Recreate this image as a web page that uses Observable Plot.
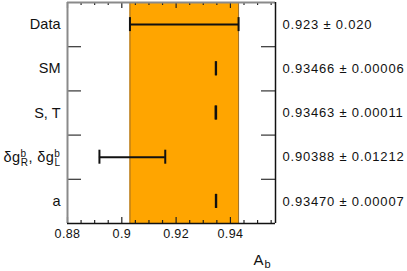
<!DOCTYPE html>
<html>
<head>
<meta charset="utf-8">
<script src="https://cdn.jsdelivr.net/npm/d3@7"></script>
<script src="https://cdn.jsdelivr.net/npm/@observablehq/plot@0.6"></script>
<style>
  html, body { margin: 0; padding: 0; background: #fff; }
  svg { font-family: "Liberation Sans", Arial, Helvetica, sans-serif; }
</style>
</head>
<body>
<div id="chart"></div>
<script>
// ---- data ----
const rowLabels = ["Data", "SM", "S, T", "DG_LABEL", "a"];
const centers = [0.923, 0.93466, 0.93463, 0.90388, 0.93470];
const errors = [0.020, 0.00006, 0.00011, 0.01212, 0.00007];
const valueLabels = [
  "0.923 \u00b1 0.020",
  "0.93466 \u00b1 0.00006",
  "0.93463 \u00b1 0.00011",
  "0.90388 \u00b1 0.01212",
  "0.93470 \u00b1 0.00007"
];
const majorTicks = [0.88, 0.90, 0.92, 0.94];
const tickLabels = ["0.88", "0.9", "0.92", "0.94"];
const xDomain = [0.88, 0.9566];
const axisTitle = "A_b";

// ---- layout ----
const W = 407, H = 271;
const mL = 67, mR = 132, mT = 2, mB = 48;
const innerW = W - mL - mR, innerH = H - mT - mB;
const nRows = rowLabels.length;
const xpx = (xDomain[1] - xDomain[0]) / innerW;  // x units per pixel
const ypx = nRows / innerH;                        // y units per pixel

const rows = rowLabels.map((label, i) => ({
  label,
  y: nRows - i - 0.5,
  c: centers[i],
  lo: centers[i] - errors[i],
  hi: centers[i] + errors[i],
  text: valueLabels[i]
}));
const band = [{x1: centers[0] - errors[0], x2: centers[0] + errors[0]}];
const minorTicks = d3.range(0, 16).map(k => +(xDomain[0] + k * 0.005).toFixed(3))
  .filter(v => v < xDomain[1] && !majorTicks.some(m => Math.abs(m - v) < 1e-9));
const boundaries = d3.range(1, nRows);
const ticksData = majorTicks.map((v, i) => ({v, label: tickLabels[i]}));

const capH = 7 * ypx;
const chart = Plot.plot({
  width: W, height: H,
  marginLeft: mL, marginRight: mR, marginTop: mT, marginBottom: mB,
  x: {domain: xDomain, axis: null},
  y: {domain: [0, nRows], axis: null},
  style: {fontFamily: "'Liberation Sans', Arial, Helvetica, sans-serif", background: "white"},
  marks: [
    // orange band for Data
    Plot.rect(band, {x1: "x1", x2: "x2", y1: 0, y2: nRows, fill: "#FFA500"}),
    Plot.ruleX(band, {x: "x1", y1: 0, y2: nRows, stroke: "#9c6b22", strokeWidth: 1}),
    Plot.ruleX(band, {x: "x2", y1: 0, y2: nRows, stroke: "#9c6b22", strokeWidth: 1}),
    // bottom & top x ticks
    Plot.ruleX(majorTicks, {x: d => d, y1: 0, y2: 6 * ypx, stroke: "#222", strokeWidth: 1.2}),
    Plot.ruleX(minorTicks, {x: d => d, y1: 0, y2: 3 * ypx, stroke: "#222", strokeWidth: 1.2}),
    Plot.ruleX(majorTicks, {x: d => d, y1: nRows - 6 * ypx, y2: nRows, stroke: "#222", strokeWidth: 1.2}),
    Plot.ruleX(minorTicks, {x: d => d, y1: nRows - 3 * ypx, y2: nRows, stroke: "#222", strokeWidth: 1.2}),
    // y ticks at row boundaries (left and right)
    Plot.ruleY(boundaries, {y: d => d, x1: xDomain[0], x2: xDomain[0] + 14 * xpx, stroke: "#333", strokeWidth: 1.2}),
    Plot.ruleY(boundaries, {y: d => d, x1: xDomain[1] - 14 * xpx, x2: xDomain[1], stroke: "#333", strokeWidth: 1.2}),
    // frame
    Plot.ruleX([xDomain[0]], {y1: 0, y2: nRows, stroke: "#8a8a8a", strokeWidth: 2}),
    Plot.ruleY([nRows], {x1: xDomain[0], x2: xDomain[1], stroke: "#8a8a8a", strokeWidth: 2}),
    Plot.ruleX([xDomain[1]], {y1: 0, y2: nRows, stroke: "#111", strokeWidth: 1.5}),
    Plot.ruleY([0], {x1: xDomain[0], x2: xDomain[1], stroke: "#111", strokeWidth: 1.5}),
    // error bars
    Plot.ruleY(rows, {y: "y", x1: "lo", x2: "hi", stroke: "#111", strokeWidth: 2}),
    Plot.ruleX(rows, {x: "lo", y1: d => d.y - capH, y2: d => d.y + capH, stroke: "#111", strokeWidth: 2}),
    Plot.ruleX(rows, {x: "hi", y1: d => d.y - capH, y2: d => d.y + capH, stroke: "#111", strokeWidth: 2}),
    // row labels (left)
    Plot.text(rows, {x: xDomain[0], y: "y", text: "label", textAnchor: "end", dx: -7, fontSize: 14.5, fill: "#111"}),
    // value labels (right)
    Plot.text(rows, {x: xDomain[1], y: "y", text: "text", textAnchor: "start", dx: 7, fontSize: 13, fill: "#111"}),
    // x tick labels
    Plot.text(ticksData, {x: "v", y: 0, text: "label", lineAnchor: "top", dy: 6, fontSize: 12.5, fill: "#111"}),
    // axis title
    Plot.text([axisTitle], {x: xDomain[1], y: 0, text: d => d, textAnchor: "start", dx: -22, dy: 41, lineAnchor: "bottom", fontSize: 15, fill: "#111"})
  ]
});

// post-process rich-text labels
const svg = d3.select(chart);
svg.selectAll("text").each(function() {
  const t = d3.select(this);
  const s = this.textContent;
  if (s === "DG_LABEL") {
    t.text("").attr("letter-spacing", 0.4);
    t.append("tspan").text("\u03b4g");
    t.append("tspan").attr("font-size", 10).attr("dy", -5).text("b");
    t.append("tspan").attr("font-size", 10).attr("dx", -5.6).attr("dy", 9).text("R");
    t.append("tspan").attr("dy", -4).text(", \u03b4g");
    t.append("tspan").attr("font-size", 10).attr("dy", -5).text("b");
    t.append("tspan").attr("font-size", 10).attr("dx", -5.6).attr("dy", 9).text("L");
  } else if (s === "A_b") {
    t.text("");
    t.append("tspan").text("A");
    t.append("tspan").attr("font-size", 11).attr("dy", 3).attr("dx", 1).text("b");
  } else if (/^0\.\d+$/.test(s)) {
    t.attr("letter-spacing", 0.4);
  }
});
svg.selectAll("text").filter(function() {
  return /^0\.\d+ \u00b1/.test(this.textContent);
}).attr("letter-spacing", 0.8);
document.getElementById("chart").appendChild(chart);
</script>
</body>
</html>
